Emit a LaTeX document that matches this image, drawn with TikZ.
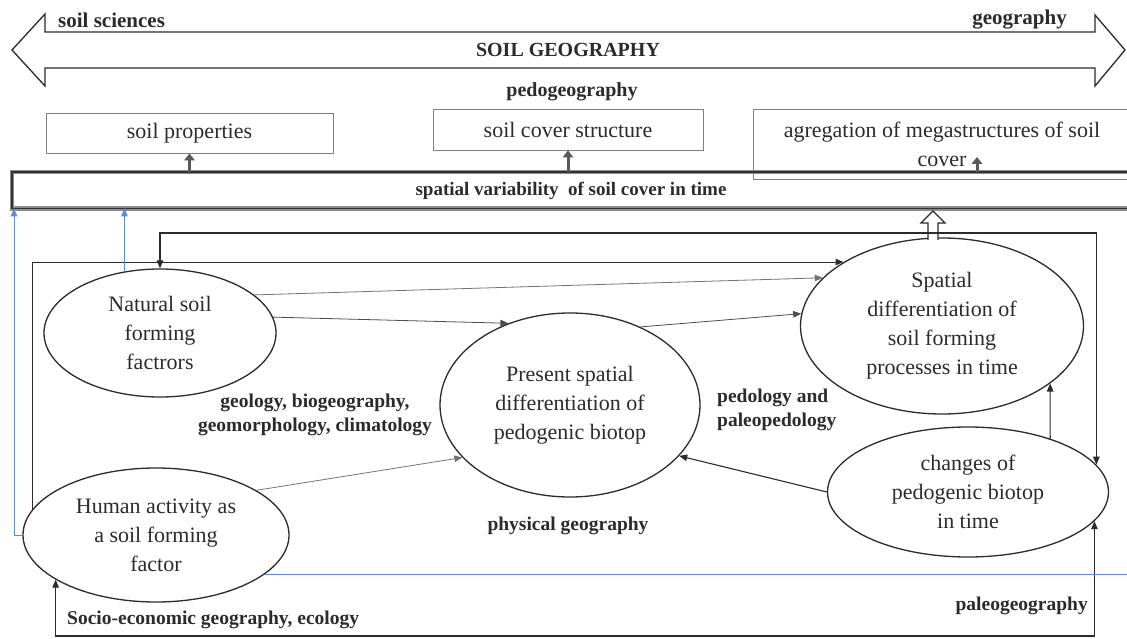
\documentclass[tikz,border=0pt]{standalone}
\usepackage{fontspec}
\setmainfont{Liberation Serif}
\usetikzlibrary{arrows.meta,shapes.geometric,calc}
\definecolor{inkc}{HTML}{2B2B2B}
\definecolor{bluec}{HTML}{5B8BD8}
\begin{document}
\begin{tikzpicture}[x=1pt,y=-1pt,
  ell/.style={ellipse, draw=inkc, line width=1.3pt, align=center, inner sep=0pt,
    font=\fontsize{22}{29}\selectfont, text=inkc},
  topbox/.style={rectangle, draw=black!50, line width=0.9pt, align=center, inner sep=0pt,
    font=\fontsize{22}{29}\selectfont, text=inkc},
  lab/.style={font=\bfseries\fontsize{19.5}{24}\selectfont, text=inkc, inner sep=0pt},
  biglab/.style={font=\bfseries\fontsize{21}{25}\selectfont, text=inkc, inner sep=0pt},
  tipA/.style={-{Triangle[length=8pt,width=6.5pt]}},
  tipB/.style={{Triangle[length=8pt,width=6.5pt]}-{Triangle[length=8pt,width=6.5pt]}},
  conn/.style={draw=inkc, line width=1.1pt},
  fine/.style={draw=black!70, line width=0.8pt},
  faint/.style={draw=black!55, line width=0.8pt},
  upbar/.style={draw=black!65, line width=3pt, -{Triangle[length=7pt,width=10.5pt]}},
  bluelink/.style={draw=bluec, line width=1pt},
]
\useasboundingbox (0,0) rectangle (1127,639);
\fill[white] (0,0) rectangle (1127,639);

% two-headed band: soil sciences <-> geography
\draw[draw=inkc, line width=1.3pt, line join=miter]
  (12,50) -- (45,14) -- (45,32) -- (1095,32) -- (1095,15) -- (1125,50)
  -- (1095,86) -- (1095,68) -- (45,68) -- (45,86) -- cycle;
\node[biglab, anchor=base west] (ssci) at (58,28) {soil sciences};
\node[biglab, anchor=base east] (geog) at (1067,25) {geography};
\node[biglab, font=\bfseries\fontsize{20}{24}\selectfont, anchor=base] (sgeo) at (568,57) {SOIL GEOGRAPHY};
\node[biglab, font=\bfseries\fontsize{20}{24}\selectfont, anchor=base] (pgeo) at (572,97) {pedogeography};

% result boxes
\node[topbox, minimum width=287pt, minimum height=40pt] (props) at (189.5,133) {soil properties};
\node[topbox, minimum width=270pt, minimum height=41pt] (struct) at (568,129.5) {soil cover structure};
\node[topbox, minimum width=378pt, minimum height=70pt] (aggr) at (942,144)
  {agregation of megastructures of soil\\cover};

% spatial variability band
\node[rectangle, minimum width=1140pt, minimum height=36pt, anchor=north west, inner sep=0pt] (bar) at (12,172) {};
\draw[black!45, line width=4.5pt] (bar.north east) -- (bar.north west) -- (bar.south west) -- (bar.south east);
\draw[black!80, line width=1.6pt] (bar.north east) -- (bar.north west) -- (bar.south west) -- (bar.south east);
\node[lab, font=\bfseries\fontsize{19}{24}\selectfont] (vartxt) at (571,191) {spatial variability\ \ of soil cover in time};

\draw[upbar] (bar.north -| props.south) -- (props.south);
\draw[upbar] (bar.north -| struct.south) -- (struct.south);
\coordinate (aggrtip) at (977,157);
\draw[upbar] (bar.north -| aggrtip) -- (aggrtip);

% processes
\node[ell, minimum width=232pt, minimum height=128pt] (nat) at (160,333) {Natural soil\\forming\\factrors};
\node[ell, minimum width=266pt, minimum height=134pt] (hum) at (156,535) {Human activity as\\a soil forming\\factor};
\node[ell, minimum width=260pt, minimum height=184pt] (pres) at (570,405) {Present spatial\\differentiation of\\pedogenic biotop};
\node[ell, minimum width=283pt, minimum height=176pt] (sdiff) at (942,326) {Spatial\\differentiation of\\soil forming\\processes in time};
\node[ell, minimum width=281pt, minimum height=130pt] (chg) at (968,492) {changes of\\pedogenic biotop\\in time};

% hollow arrow into the band
\draw[draw=inkc, line width=1.1pt, fill=white]
  (928,240) -- (928,223) -- (921,223) -- (933,211) -- (945,223) -- (938,223) -- (938,240);

% feedback loops
\coordinate (toprun) at (0,233);
\draw[conn, tipB] (nat.north) -- (nat.north |- toprun) -| (chg.12);
\draw[conn, tipA] (hum.168) |- (sdiff.147);
\coordinate (botrun) at (0,636);
\draw[conn, tipB] (hum.204) -- (hum.204 |- botrun) -| (chg.-13.6);

% direct influences
\draw[faint, tipA] (nat.22) -- (sdiff.158);
\draw[fine, tipA] (nat.8) -- (pres.127);
\draw[fine, tipA] (pres.48) -- (sdiff.175);
\draw[faint, tipA] (hum.24) -- (pres.206);
\draw[conn, tipA] (chg.west) -- (pres.-25);
\draw[conn, tipA] (chg.33.2) -- (sdiff.-28.3);

% links to the spatial variability band
\coordinate (leftrun) at (14,0);
\draw[bluelink, tipA] (hum.west) -| (bar.south -| leftrun);
\draw[bluelink, tipA] (nat.120.6) -- (nat.120.6 |- bar.south);
\draw[bluelink] (hum.-20.6) -- ++(880,0);

% discipline labels
\node[lab, align=center] (geol) at (315,415) {geology, biogeography,\\geomorphology, climatology};
\node[lab, align=left, anchor=west] (pedo) at (717,410) {pedology and\\paleopedology};
\node[lab] (phys) at (568,526) {physical geography};
\node[lab, anchor=west] (socio) at (67,620) {Socio-economic geography, ecology};
\node[lab, anchor=east] (paleo) at (1088,606) {paleogeography};
\end{tikzpicture}
\end{document}
